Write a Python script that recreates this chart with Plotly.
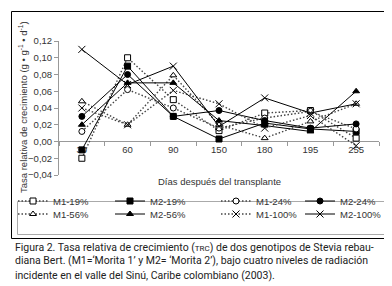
import plotly.graph_objects as go

days = ["30", "60", "90", "150", "180", "195", "255"]

m1_19 = [-0.020, 0.100, 0.050, 0.013, 0.034, 0.037, 0.004]
m2_19 = [-0.010, 0.090, 0.030, 0.003, 0.022, 0.015, 0.012]
m1_24 = [0.012, 0.062, 0.040, 0.016, 0.028, 0.036, 0.015]
m2_24 = [0.030, 0.080, 0.030, 0.037, 0.025, 0.016, 0.021]
m1_56 = [0.048, 0.020, 0.079, 0.020, 0.004, 0.024, 0.045]
m2_56 = [0.020, 0.070, 0.070, 0.025, 0.019, 0.012, 0.060]
m1_100 = [0.040, 0.020, 0.061, 0.045, 0.016, 0.031, -0.005]
m2_100 = [0.110, 0.068, 0.090, 0.018, 0.052, 0.034, 0.045]

names = ["M1-19%", "M2-19%", "M1-24%", "M2-24%", "M1-56%", "M2-56%", "M1-100%", "M2-100%"]
series = [m1_19, m2_19, m1_24, m2_24, m1_56, m2_56, m1_100, m2_100]

# plot area in pixels
L, R, T, B = 51, 371, 33, 167
W, H = 392, 286


def px_x(p):
    return (p - L) / (R - L)


def px_y(p):
    return (B - p) / (B - T)


styles = [
    dict(symbol="square", fill="white", dash="dot", color="#555"),
    dict(symbol="square", fill="black", dash="solid", color="black"),
    dict(symbol="circle", fill="white", dash="dot", color="#555"),
    dict(symbol="circle", fill="black", dash="solid", color="black"),
    dict(symbol="triangle-up", fill="white", dash="dot", color="#555"),
    dict(symbol="triangle-up", fill="black", dash="solid", color="black"),
    dict(symbol="x-thin", fill="black", dash="dot", color="#555"),
    dict(symbol="x-thin", fill="black", dash="solid", color="black"),
]

fig = go.Figure()
legend_ids = ["legend"] + ["legend%d" % i for i in range(2, 9)]
for i, (nm, vals, st) in enumerate(zip(names, series, styles)):
    is_x = st["symbol"] == "x-thin"
    dotted = st["dash"] == "dot"
    fig.add_trace(go.Scatter(
        x=days, y=vals, name=nm, mode="lines+markers",
        line=dict(color="#444" if dotted else "black",
                  width=1.4 if dotted else 1,
                  dash="1.5px,2px" if dotted else "solid"),
        marker=dict(symbol=st["symbol"], size=7 if is_x else 6,
                    color=st["fill"],
                    line=dict(color="black", width=1)),
        legend=legend_ids[i],
    ))

# legend positions (text start px, row center px)
col_text = [50, 147, 253, 337]
row_y = [193, 206]
layout_legends = {}
for i, lid in enumerate(legend_ids):
    col = i % 4
    row = i // 4
    layout_legends[lid] = dict(
        x=px_x(col_text[col] - 45), y=px_y(row_y[row]),
        xanchor="left", yanchor="middle",
        bgcolor="rgba(0,0,0,0)", borderwidth=0,
        font=dict(family="Liberation Sans, Arial", size=9.5, color="#333"),
        itemwidth=30, orientation="v",
    )

cap_font = dict(family="Roboto, Liberation Sans", size=10.5, color="#222")
caption = [
    "Figura 2. Tasa relativa de crecimiento (<span style='font-size:8px'>TRC</span>) de dos genotipos de Stevia rebau-",
    "diana Bert. (M1=‘Morita 1’ y M2= ‘Morita 2’), bajo cuatro niveles de radiación",
    "incidente en el valle del Sinú, Caribe colombiano (2003).",
]
annotations = []
for k, line in enumerate(caption):
    annotations.append(dict(
        text=line, xref="paper", yref="paper", x=px_x(5), y=px_y(239 + 14 * k),
        xanchor="left", yanchor="middle", showarrow=False, font=cap_font,
    ))

axis_font = dict(family="Liberation Sans, Arial", size=9.5, color="#333")
annotations.append(dict(
    text="Días después del transplante", xref="paper", yref="paper",
    x=px_x(211), y=px_y(173), xanchor="center", yanchor="middle",
    showarrow=False, font=axis_font,
))
annotations.append(dict(
    text="Tasa relativa de crecimiento (g • g<sup>-1</sup> • d<sup>-1</sup>)",
    xref="paper", yref="paper", x=px_x(15), y=px_y(99),
    xanchor="center", yanchor="middle", textangle=-90,
    showarrow=False, font=axis_font,
))

shapes = [
    dict(type="rect", xref="paper", yref="paper",
         x0=px_x(3.5), x1=px_x(384.5), y0=px_y(3.5), y1=px_y(230.5),
         line=dict(color="black", width=1), fillcolor="rgba(0,0,0,0)"),
    dict(type="rect", xref="paper", yref="paper",
         x0=px_x(9.5), x1=px_x(380.5), y0=px_y(193.5), y1=px_y(226.5),
         line=dict(color="#aaa", width=1), fillcolor="rgba(0,0,0,0)"),
]

fig.update_layout(
    width=W, height=H,
    margin=dict(l=L, r=W - R, t=T, b=H - B, pad=0, autoexpand=False),
    paper_bgcolor="white", plot_bgcolor="white",
    separators=", ",
    showlegend=True,
    annotations=annotations,
    shapes=shapes,
    **layout_legends,
)

fig.update_xaxes(
    type="category", categoryorder="array", categoryarray=days,
    range=[-0.5, 6.5], showgrid=False, zeroline=False,
    showline=True, linecolor="#999", linewidth=1,
    ticks="outside", tickson="boundaries", ticklen=4, tickcolor="#999",
    tickfont=axis_font, anchor="free", position=px_y(133),
    layer="below traces", ticklabelstandoff=0,
)
fig.update_yaxes(
    range=[-0.04, 0.12], dtick=0.02, tick0=0, tickformat=".2f",
    showgrid=False, zeroline=False,
    showline=True, linecolor="#999", linewidth=1,
    ticks="outside", ticklen=4, tickcolor="#999",
    tickfont=axis_font,
)

fig.write_html("out.html")
